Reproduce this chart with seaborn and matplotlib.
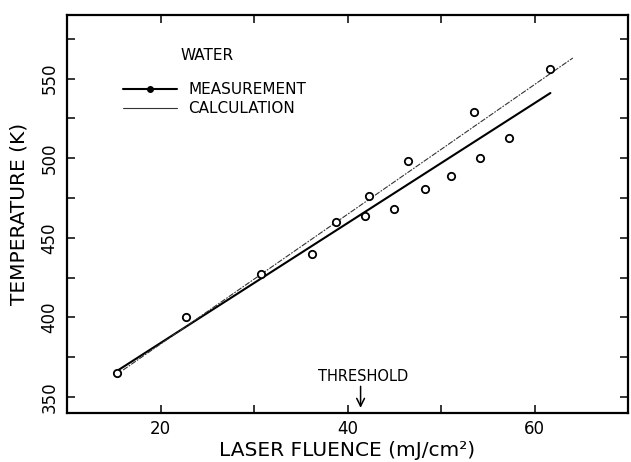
import matplotlib
matplotlib.use("Agg")
import matplotlib.pyplot as plt
import seaborn as sns
import pandas as pd
from matplotlib.lines import Line2D
from matplotlib.ticker import MultipleLocator

# Measured surface temperature of water vs. laser fluence
fluence = [15.3, 22.7, 30.7, 36.2, 38.8, 41.9, 42.3, 45.0, 46.5, 48.3, 51.1, 53.5, 54.2, 57.3, 61.7]
temperature = [365, 400, 427, 440, 460, 464, 476, 468, 498, 481, 489, 529, 500, 513, 556]

# Straight-line fit through the measurements
meas_fit_x = [15.5, 61.7]
meas_fit_y = [367, 541]

# Model calculation
calc_x = [16.0, 64.1]
calc_y = [367, 563]

threshold_fluence = 41.4

sns.set_style("ticks")
plt.rcParams["font.family"] = ["DejaVu Sans"]
plt.rcParams["text.color"] = "black"
plt.rcParams["axes.labelcolor"] = "black"

fig = plt.figure(figsize=(6.31, 4.62), dpi=100)
ax = fig.add_axes([67 / 631, 49 / 462, 561 / 631, 398 / 462])

pts = pd.DataFrame({"fluence": fluence, "temperature": temperature})
fit = pd.DataFrame({"fluence": meas_fit_x, "temperature": meas_fit_y})
calc = pd.DataFrame({"fluence": calc_x, "temperature": calc_y})

sns.lineplot(data=fit, x="fluence", y="temperature", ax=ax, color="black",
             linewidth=1.5, sort=False)
sns.lineplot(data=calc, x="fluence", y="temperature", ax=ax, color="#333333",
             linewidth=0.8, sort=False, dashes=False)
ax.lines[-1].set_dashes([5, 1.2, 1.5, 1.2])
sns.scatterplot(data=pts, x="fluence", y="temperature", ax=ax, marker="o",
                s=28, facecolor="white", edgecolor="black", linewidth=1.3,
                zorder=5)

ax.set_xlim(10, 70)
ax.set_ylim(340, 590)
ax.xaxis.set_minor_locator(MultipleLocator(10))
ax.yaxis.set_minor_locator(MultipleLocator(25))
ax.set_xticks([20, 40, 60])
ax.set_yticks([350, 400, 450, 500, 550])

for side in ["top", "right", "bottom", "left"]:
    ax.spines[side].set_visible(True)
    ax.spines[side].set_linewidth(1.6)
    ax.spines[side].set_color("black")

ax.tick_params(which="both", direction="in", top=True, right=True,
               length=6, width=1.1, colors="black")
ax.tick_params(axis="x", which="major", labelsize=12, pad=5)
ax.tick_params(axis="y", which="major", labelsize=12, pad=6)
for lab in ax.get_yticklabels():
    lab.set_rotation(90)
    lab.set_va("center")

ax.set_xlabel("LASER FLUENCE (mJ/cm²)", fontsize=14.5, va="center")
ax.xaxis.set_label_coords(0.499, -0.094)
ax.set_ylabel("TEMPERATURE (K)", fontsize=14.5, va="center")
ax.yaxis.set_label_coords(-0.085, 0.5)

ax.text(0.202, 0.898, "WATER", transform=ax.transAxes, fontsize=11,
        ha="left", va="center")

handles = [
    Line2D([], [], color="black", linewidth=1.5, marker="o", markersize=4,
           markerfacecolor="black"),
    Line2D([], [], color="#333333", linewidth=0.8),
]
ax.legend(handles, ["MEASUREMENT", "CALCULATION"], loc="upper left",
          bbox_to_anchor=(0.1, 0.832), frameon=False, fontsize=11,
          handlelength=3.5, handletextpad=0.75, labelspacing=0.3,
          numpoints=1, borderpad=0, borderaxespad=0)

ax.text(41.7, 363.2, "THRESHOLD", fontsize=10.5, ha="center", va="center")
ax.annotate("", xy=(threshold_fluence, 341.5), xytext=(threshold_fluence, 358.5),
            arrowprops=dict(arrowstyle="->", lw=1.1, color="black",
                            mutation_scale=14))

fig.savefig("out.png", dpi=100, facecolor="white")
